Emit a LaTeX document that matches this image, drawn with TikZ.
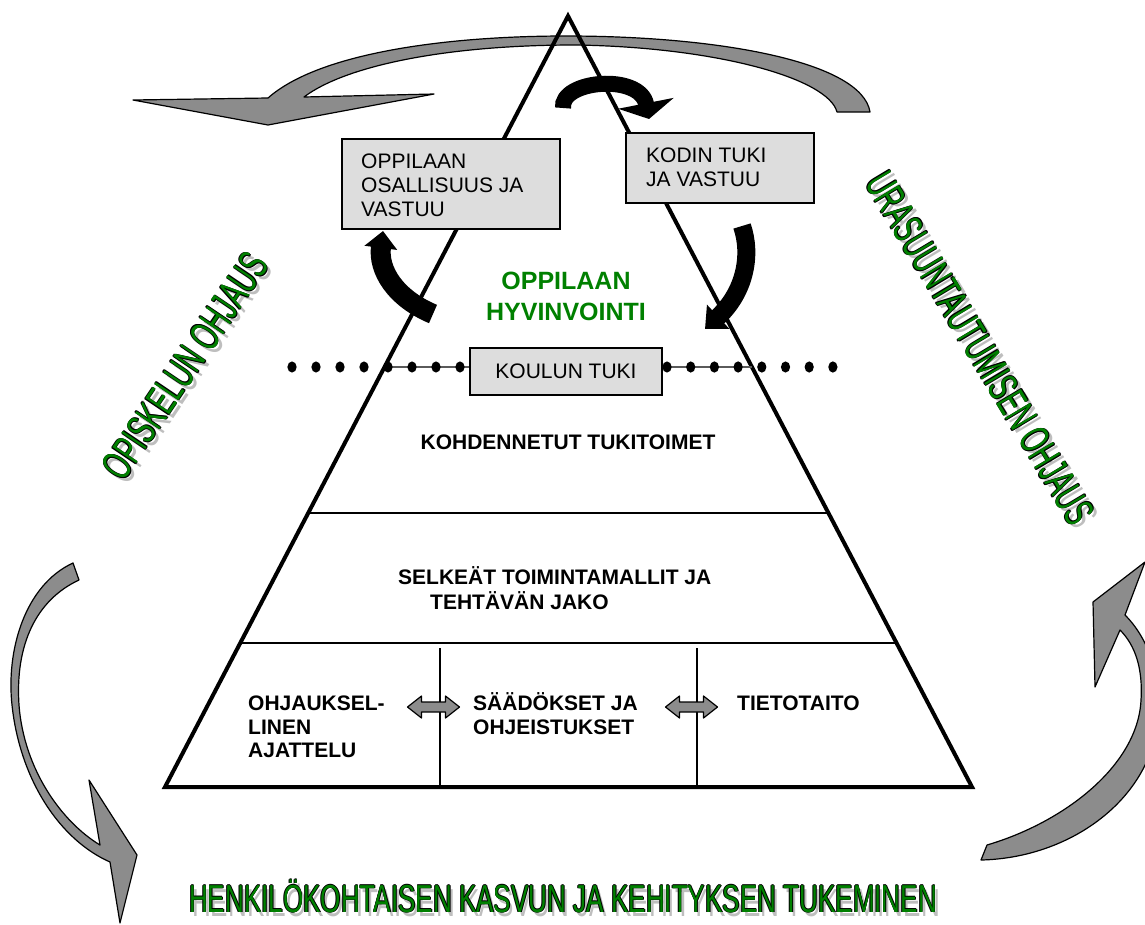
\documentclass[tikz,border=0pt]{standalone}
\usepackage{fontspec}
\setmainfont{Liberation Sans}
\usetikzlibrary{arrows.meta,shapes.geometric,calc}
\definecolor{boxgray}{RGB}{221,221,221}
\definecolor{arrowgray}{RGB}{140,140,140}
\definecolor{wagreen}{RGB}{0,128,0}
\definecolor{textgreen}{RGB}{0,128,0}
\definecolor{shadowgray}{RGB}{190,190,190}
\definecolor{dotline}{RGB}{90,90,90}
\newcommand\watext[1]{%
  \rlap{\kern-1.2pt\textcolor{black}{#1}}%
  \rlap{\kern1.2pt\textcolor{black}{#1}}%
  \rlap{\raisebox{0.8pt}{\textcolor{black}{#1}}}%
  \rlap{\raisebox{-0.8pt}{\textcolor{black}{#1}}}%
  \textcolor{wagreen}{#1}}
\tikzset{
  tri/.style={line width=4pt, line join=miter},
  divider/.style={line width=1.6pt},
  graybox/.style={draw, line width=2pt, fill=boxgray, inner sep=0pt},
  boxtext/.style={font=\fontsize{21pt}{24pt}\selectfont, align=left, inner sep=0pt},
  boldtext/.style={font=\fontsize{21pt}{23.5pt}\selectfont\bfseries, align=left, inner sep=0pt},
  greentext/.style={font=\fontsize{25pt}{31pt}\selectfont\bfseries, text=textgreen, align=center, inner sep=0pt},
  grayarrow/.style={draw=black, line width=1.2pt, fill=arrowgray, line join=round},
  wa/.style={font=\fontsize{42pt}{42pt}\selectfont, inner sep=0pt},
  wab/.style={font=\fontsize{39pt}{39pt}\selectfont, inner sep=0pt},
  dblarrow/.pic={\filldraw[grayarrow] (-26,0) -- (-12,-11) -- (-12,-5) -- (12,-5) -- (12,-11) -- (26,0) -- (12,11) -- (12,5) -- (-12,5) -- (-12,11) -- cycle;}
}
\begin{document}
\begin{tikzpicture}[x=1pt,y=-1pt]
\useasboundingbox (0,0) rectangle (1145,924);
\begin{scope}
\clip (0,0) rectangle (1145,924);
% big gray arrows
\filldraw[grayarrow] (268,98) .. controls (320,52) and (450,36) .. (566,36) .. controls (720,36) and (862,62) .. (870,112) -- (837,112) .. controls (828,78) and (715,47) .. (575,45) .. controls (445,45) and (345,66) .. (304,97) -- (434,94) -- (268,125) -- (133,100) -- cycle;
\filldraw[grayarrow] (73,563) .. controls (25,585) and (6,650) .. (12,705) .. controls (20,780) and (60,840) .. (110,862) -- (120,923) -- (137,855) -- (89,780) -- (100,845) .. controls (62,822) and (24,770) .. (19,705) .. controls (15,645) and (36,600) .. (79,580) -- cycle;
\filldraw[grayarrow] (987,845) .. controls (1065,822) and (1138,765) .. (1141,700) .. controls (1143,668) and (1135,645) .. (1120,630) -- (1095,687) -- (1093,602) -- (1145,562) -- (1125,615) .. controls (1150,640) and (1162,680) .. (1158,720) .. controls (1150,800) and (1070,858) .. (981,860) -- cycle;
\end{scope}

% pyramid
\coordinate (apex) at (568,16);
\coordinate (bl) at (165,787);
\coordinate (br) at (972,787);
\draw[tri] (apex) -- (bl) -- (br) -- cycle;
\draw[divider] ($(apex)!0.6446!(bl)$) -- ($(apex)!0.6446!(br)$);
\draw[divider] ($(apex)!0.8132!(bl)$) -- ($(apex)!0.8132!(br)$);
\coordinate (v1t) at (440,648);
\coordinate (v1b) at (440,786);
\coordinate (v2t) at (697,648);
\coordinate (v2b) at (697,786);
\draw[line width=1.4pt] (v1t) -- (v1b);
\draw[line width=1.4pt] (v2t) -- (v2b);

% dotted level line
\draw[line width=2pt, dotline] ($(apex)!0.4553!(bl)$) -- ($(apex)!0.4553!(br)$);
\foreach \i in {0,...,7} {
  \fill ({292+24*\i},367) ellipse [x radius=4.6, y radius=5.6];
  \fill ({667+23.7*\i},367) ellipse [x radius=4.6, y radius=5.6];
}
\node[graybox, minimum width=192, minimum height=47, font=\fontsize{21pt}{24pt}\selectfont] (koulu) at (566,371.5) {KOULUN TUKI};

% boxes
\node[graybox, minimum width=218, minimum height=90, anchor=north west] (oppbox) at (341,138) {};
\node[boxtext, anchor=base west] (opptext) at (361,216.5) {OPPILAAN\\OSALLISUUS JA\\VASTUU};
\node[graybox, minimum width=188, minimum height=70, anchor=north west] (kodbox) at (625,132) {};
\node[boxtext, anchor=base west] (kodtext) at (646,186.5) {KODIN TUKI\\JA VASTUU};

% black arrows
\draw[line width=16pt, -{Triangle[width=56pt,length=16pt]}] (563,108) .. controls (560,80) and (640,73) .. (649,119);
\draw[line width=20pt, -{Triangle[width=32pt,length=17pt]}] (433,314) .. controls (395,298) and (378,270) .. (383,231);
\draw[line width=18pt, -{Triangle[width=32pt,length=18pt]}] (742,226) .. controls (752,255) and (745,292) .. (705,329);

% texts
\node[greentext] (hyv) at (566,296.5) {OPPILAAN\\HYVINVOINTI};
\node[boldtext] (kohd) at (568,442.5) {KOHDENNETUT TUKITOIMET};
\node[boldtext, anchor=base west] (selk1) at (398,584.5) {SELKEÄT TOIMINTAMALLIT JA};
\node[boldtext, anchor=base west] (selk2) at (430,609.5) {TEHTÄVÄN JAKO};
\node[boldtext, anchor=base west] (ohj) at (248,757.5) {OHJAUKSEL-\\LINEN\\AJATTELU};
\node[boldtext, anchor=base west] (saad) at (473,734) {SÄÄDÖKSET JA\\OHJEISTUKSET};
\node[boldtext, anchor=base west] (tieto) at (737,710.5) {TIETOTAITO};
\pic at (433.5,707) {dblarrow};
\pic at (691.5,707) {dblarrow};

% word art
\node[wa, text=shadowgray, rotate=56] (opis-sh) at (189,370) {\scalebox{0.62}[1]{OPISKELUN OHJAUS}};
\node[wa, rotate=56] (opis) at (185,366) {\scalebox{0.62}[1]{\watext{OPISKELUN OHJAUS}}};
\node[wa, text=shadowgray, rotate=-59] (ura-sh) at (984,351) {\scalebox{0.61}[1]{URASUUNTAUTUMISEN OHJAUS}};
\node[wa, rotate=-59] (ura) at (980,348) {\scalebox{0.61}[1]{\watext{URASUUNTAUTUMISEN OHJAUS}}};
\node[wab, text=shadowgray, anchor=base] (henk-sh) at (566,916) {\scalebox{0.668}[1]{HENKILÖKOHTAISEN KASVUN JA KEHITYKSEN TUKEMINEN}};
\node[wab, anchor=base] (henk) at (563,912) {\scalebox{0.668}[1]{\watext{HENKILÖKOHTAISEN KASVUN JA KEHITYKSEN TUKEMINEN}}};
\end{tikzpicture}
\end{document}
